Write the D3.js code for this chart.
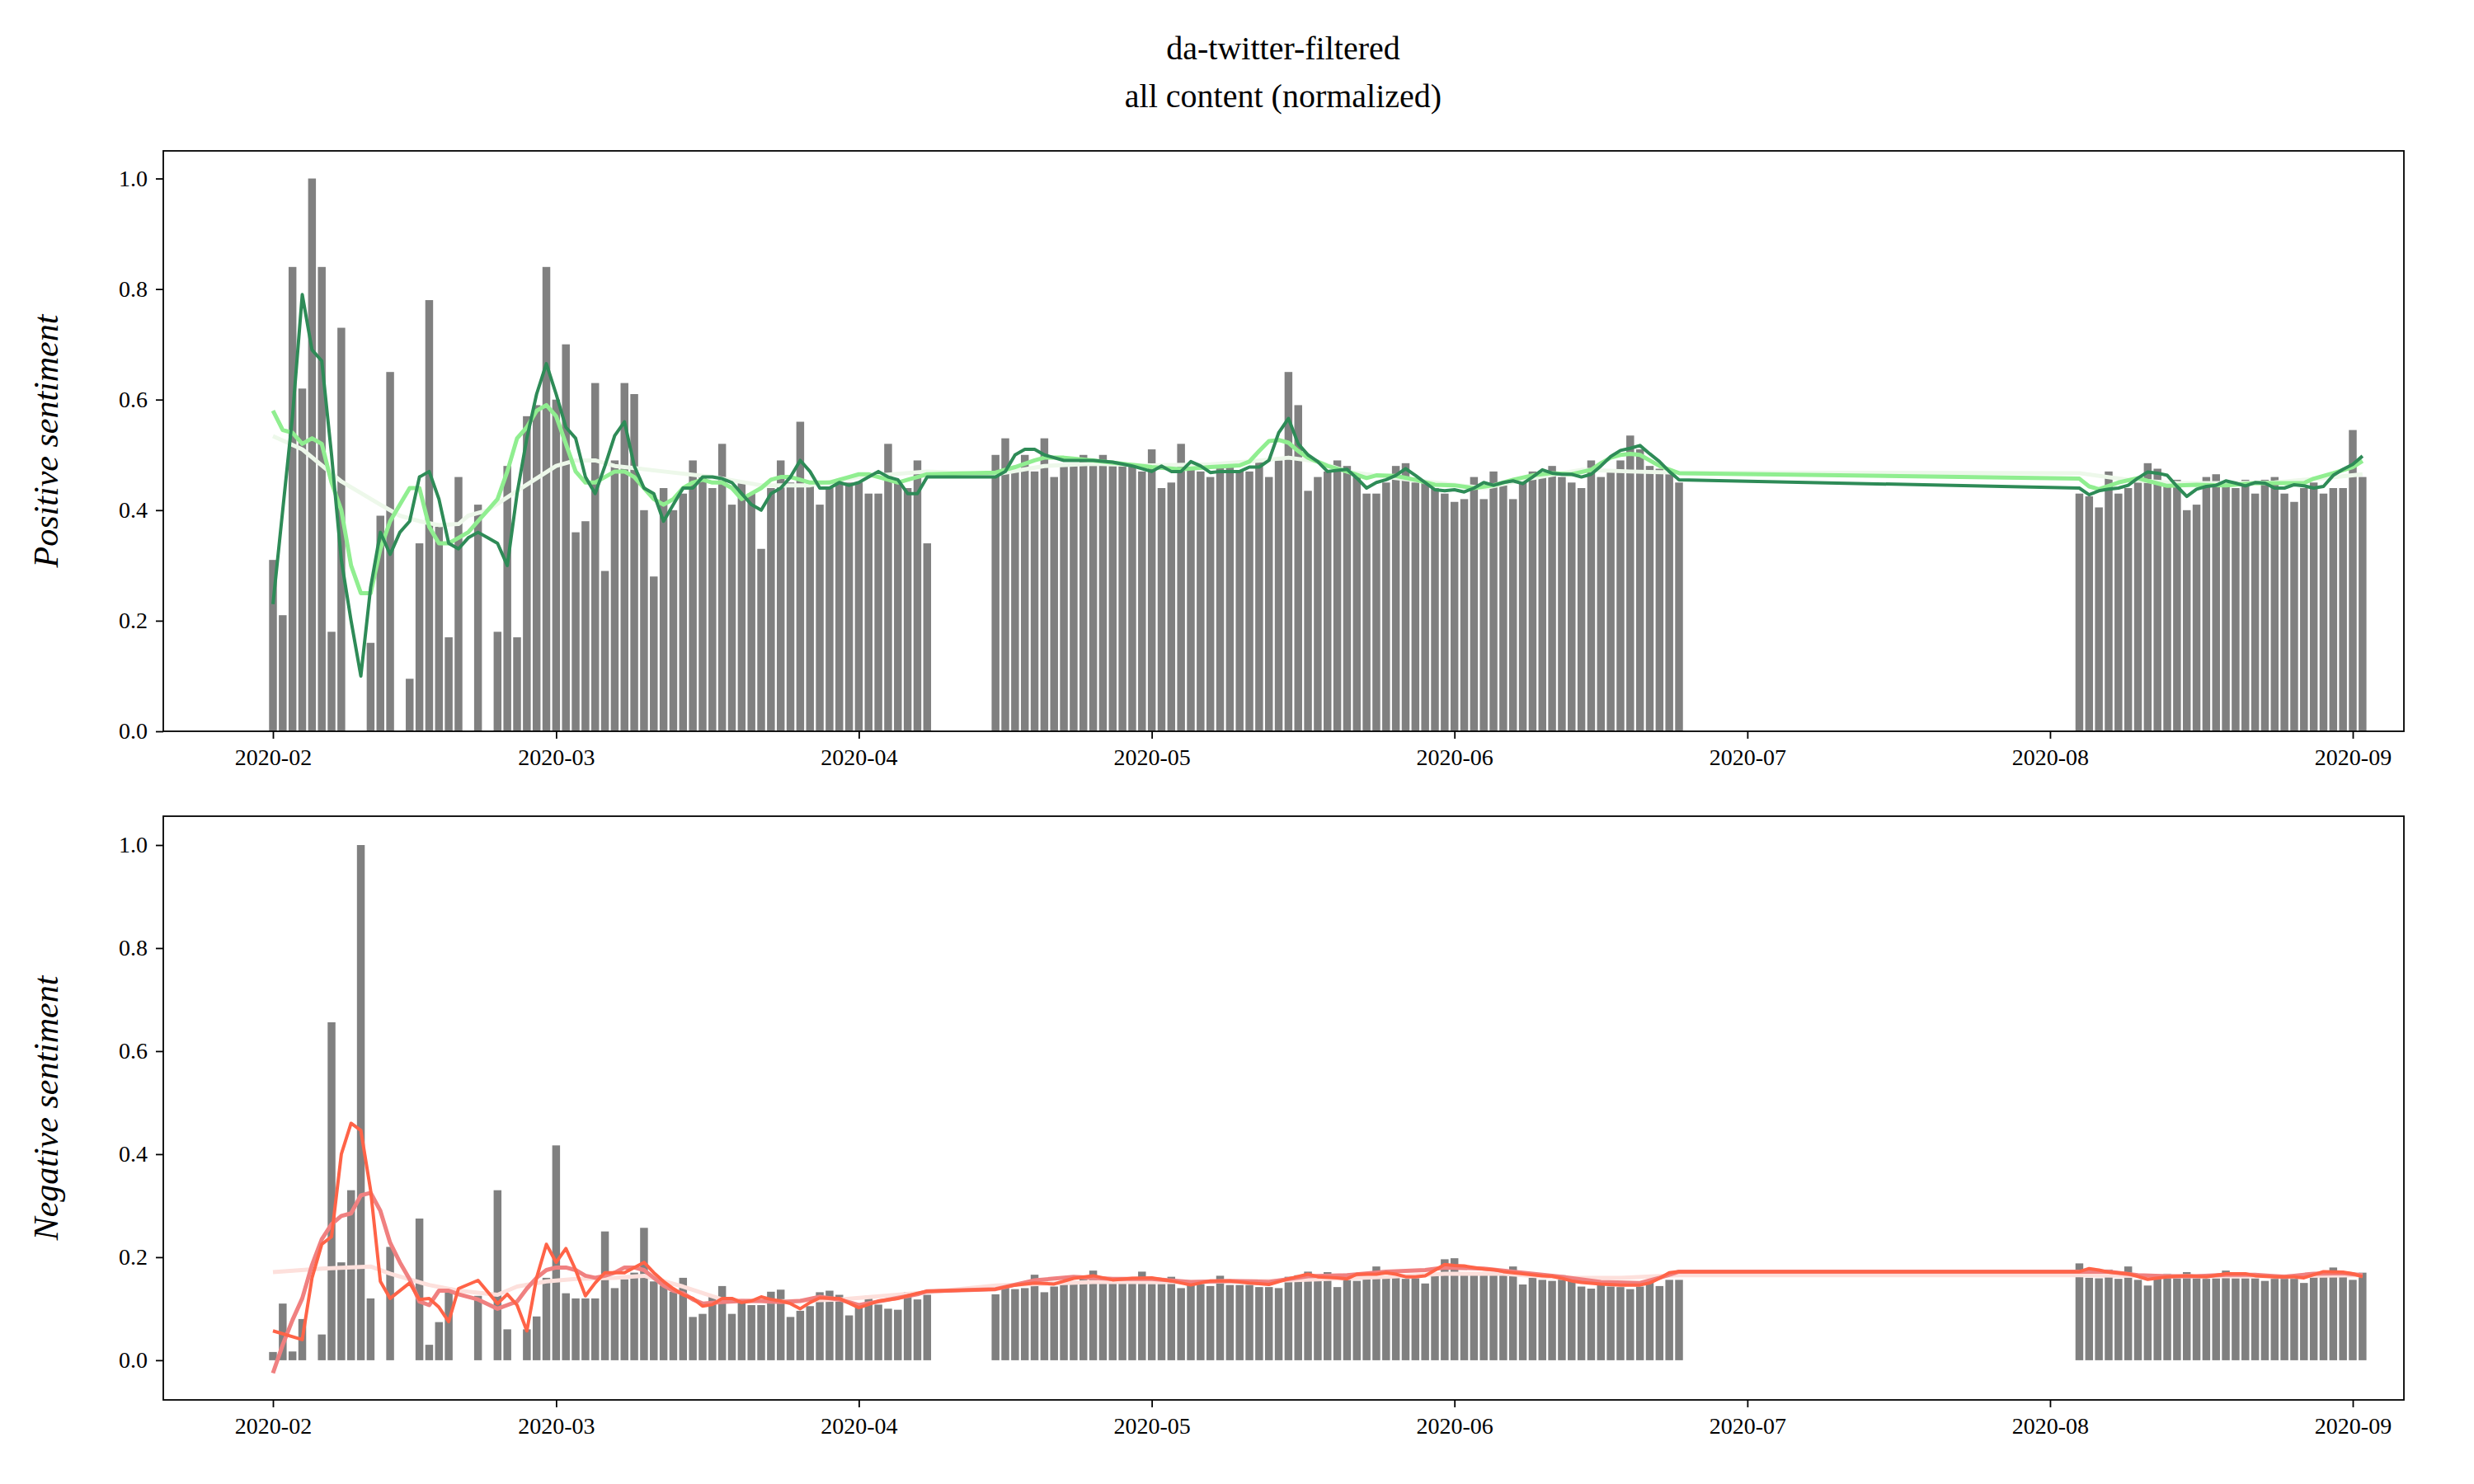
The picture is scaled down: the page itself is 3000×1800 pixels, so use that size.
<!DOCTYPE html>
<html>
<head>
<meta charset="utf-8">
<script src="https://cdn.jsdelivr.net/npm/d3@7"></script>
<style>
  body { margin: 0; background: #fff; }
  text { font-family: "Liberation Serif", "DejaVu Serif", serif; }
</style>
</head>
<body>
<svg id="chart" width="3000" height="1800"></svg>
<script>
// day offsets are counted from 2020-02-01
var segStarts = ['2020-02-01', '2020-04-15', '2020-08-04'];

// positive bars, one array per block of days (null = no bar)
var posBarsA = [.31, .21, .84, .62, 1.0, .84, .18, .73, null, null, .16, .39, .65, null, .095, .34, .78, .37, .17, .46,
    null, .41, null, .18, .48, .17, .57, .59, .84, .60, .70, .36, .38, .63, .29, .49, .63, .61, .40, .28,
    .44, .40, .43, .49, .46, .44, .52, .41, .45, .43, .33, .44, .49, .45, .56, .45, .41, .44, .45, .45,
    .45, .43, .43, .52, .45, .44, .49, .34];
var posBarsB = [.50, .53, .47, .50, .47, .53, .46, .48, .48, .50, .48, .50, .48, .48, .48, .47, .51, .44, .45, .52,
    .475, .47, .46, .48, .48, .47, .47, .49, .46, .49, .65, .59, .435, .46, .47, .49, .48, .46, .43, .43,
    .45, .48, .485, .45, .45, .44, .43, .415, .42, .46, .42, .47, .445, .42, .45, .47, .46, .48, .46, .45,
    .44, .49, .46, .47, .49, .535, .51, .48, .475, .47, .45];
var posBarsC = [.43, .425, .405, .47, .43, .44, .45, .485, .475, .45, .455, .40, .41, .46, .465, .45, .44, .455, .43, .455,
    .46, .43, .415, .44, .45, .43, .44, .44, .545, .46];

var negBarsA = [.016, .11, .017, .08, null, .05, .656, .19, .33, 1.0, .12, null, .22, null, null, .275, .03, .074, .135, null,
    null, .125, null, .33, .06, null, .06, .085, .16, .417, .13, .12, .12, .12, .25, .14, .157, .17, .257, .153,
    .145, .133, .16, .084, .09, .123, .144, .09, .114, .107, .107, .133, .137, .084, .096, .105, .132, .135, .127, .087,
    .107, .125, .108, .10, .098, .132, .118, .127];
var negBarsB = [.128, .148, .138, .14, .166, .132, .143, .148, .15, .164, .174, .152, .154, .151, .15, .172, .148, .148, .162, .14,
    .148, .148, .144, .164, .146, .146, .146, .142, .142, .14, .162, .165, .172, .154, .171, .142, .168, .154, .159, .182,
    .159, .162, .158, .159, .149, .164, .196, .198, .17, .17, .17, .17, .168, .182, .147, .16, .156, .154, .165, .163,
    .143, .139, .146, .143, .142, .138, .143, .154, .144, .156, .156];
var negBarsC = [.188, .16, .159, .176, .158, .182, .156, .145, .158, .168, .159, .171, .159, .158, .159, .174, .159, .159, .159, .154,
    .158, .158, .158, .15, .171, .162, .18, .162, .156, .17];

// rolling means, [day offset, value]
var posShort = [[0,.23],[1,.40],[2,.57],[3,.79],[4,.69],[5,.67],[6,.50],[7,.31],[8,.20],[9,.10],[10,.26],[11,.36],[12,.32],[13,.36],[14,.38],
    [15,.46],[16,.47],[17,.42],[18,.34],[19,.33],[20,.35],[21,.36],[22,.35],[23,.34],[24,.30],[25,.43],[26,.53],[27,.61],[28,.665],[29,.61],
    [30,.55],[31,.53],[32,.46],[33,.43],[34,.48],[35,.535],[36,.56],[37,.48],[38,.44],[39,.43],[40,.38],[41,.41],[42,.44],[43,.44],[44,.46],
    [45,.46],[46,.457],[47,.45],[48,.43],[49,.41],[50,.40],[51,.43],[52,.44],[53,.46],[54,.49],[55,.47],[56,.44],[57,.44],[58,.45],[59,.445],
    [60,.45],[61,.46],[62,.47],[63,.46],[64,.455],[65,.43],[66,.43],[67,.46],
    [74,.46],[75,.47],[76,.50],[77,.51],[78,.51],[79,.50],[80,.495],[81,.49],[82,.49],[83,.49],[84,.49],[86,.487],[88,.48],[90,.47],[91,.48],
    [92,.47],[93,.47],[94,.488],[95,.48],[96,.468],[97,.47],[99,.47],[100,.478],[101,.478],[102,.49],[103,.54],[104,.566],[105,.52],[106,.50],
    [107,.488],[108,.47],[109,.472],[110,.474],[111,.458],[112,.44],[113,.45],[114,.455],[115,.463],[116,.475],[117,.463],[118,.45],[119,.437],
    [120,.435],[121,.437],[122,.433],[123,.44],[124,.45],[125,.445],[126,.45],[127,.453],[128,.448],[129,.46],[130,.473],[131,.467],[132,.465],
    [133,.465],[134,.46],[135,.465],[136,.48],[137,.497],[138,.508],[139,.512],[140,.517],[141,.502],[142,.488],[143,.47],[144,.455],
    [185,.44],[186,.428],[187,.435],[188,.438],[189,.44],[190,.445],[191,.458],[192,.469],[193,.467],[194,.463],[195,.443],[196,.425],[197,.438],
    [198,.443],[199,.445],[200,.453],[201,.449],[202,.444],[203,.45],[204,.449],[205,.44],[206,.44],[207,.446],[208,.444],[209,.44],[210,.443],
    [211,.463],[212,.474],[213,.483],[214,.498]];
var posMid = [[0,.58],[1,.545],[2,.54],[3,.52],[4,.53],[5,.52],[6,.45],[7,.40],[8,.30],[9,.25],[10,.25],[11,.33],[12,.38],[13,.41],[14,.44],
    [15,.44],[16,.37],[17,.34],[18,.34],[19,.35],[20,.36],[21,.38],[22,.40],[23,.42],[24,.47],[25,.53],[26,.55],[27,.58],[28,.59],[29,.57],
    [30,.52],[31,.47],[32,.45],[33,.45],[34,.46],[35,.47],[36,.47],[37,.46],[38,.44],[39,.42],[40,.41],[41,.42],[42,.44],[43,.45],[44,.455],
    [45,.45],[46,.45],[47,.44],[48,.42],[49,.43],[50,.44],[51,.455],[52,.46],[53,.46],[54,.455],[55,.45],[56,.45],[57,.45],[58,.455],[59,.46],
    [60,.465],[61,.465],[62,.46],[63,.455],[64,.45],[65,.455],[66,.46],[67,.465],
    [74,.468],[76,.478],[78,.49],[79,.495],[81,.495],[84,.49],[87,.484],[90,.478],[93,.474],[96,.478],[99,.481],[100,.488],[101,.507],[102,.525],
    [103,.527],[104,.522],[105,.507],[106,.495],[108,.48],[110,.47],[112,.458],[113,.463],[115,.462],[117,.455],[119,.446],[121,.445],[123,.44],
    [125,.445],[127,.455],[129,.463],[131,.467],[133,.465],[135,.473],[136,.485],[137,.495],[138,.50],[139,.502],[140,.50],[142,.48],[144,.467],
    [185,.457],[186,.443],[187,.438],[189,.45],[191,.458],[192,.453],[194,.444],[197,.446],[200,.445],[203,.449],[206,.449],[208,.449],[209,.457],
    [211,.467],[213,.478],[214,.489]];
var posLong = [[0,.534],[3,.51],[7,.452],[11,.41],[13,.39],[15,.38],[17,.373],[19,.375],[20,.39],[22,.40],[25,.435],[29,.48],[31,.49],[33,.49],
    [35,.48],[37,.476],[40,.47],[45,.46],[50,.445],[55,.445],[60,.46],[67,.47],
    [74,.465],[79,.48],[84,.484],[90,.481],[96,.483],[100,.488],[104,.495],[107,.488],[110,.47],[114,.46],[119,.45],[124,.44],[129,.458],[134,.473],
    [139,.47],[144,.468],[185,.467],[190,.455],[195,.449],[200,.449],[205,.45],[210,.458],[214,.465]];

var negShort = [[0,.057],[3,.04],[4,.16],[5,.225],[6,.24],[7,.40],[8,.46],[9,.446],[10,.33],[11,.153],[12,.12],[14,.15],[15,.118],[16,.12],
    [17,.103],[18,.075],[19,.139],[21,.155],[23,.11],[24,.128],[25,.107],[26,.057],[27,.16],[28,.225],[29,.19],[30,.217],[31,.175],[32,.125],
    [33,.15],[34,.17],[36,.17],[37,.18],[38,.19],[39,.17],[40,.153],[41,.139],[42,.127],[43,.12],[44,.105],[45,.108],[46,.12],[47,.12],[48,.112],
    [49,.115],[50,.123],[51,.118],[52,.115],[53,.11],[54,.10],[55,.112],[56,.121],[58,.12],[60,.102],[62,.115],[64,.12],[65,.125],[66,.13],[67,.134],
    [74,.138],[76,.146],[78,.15],[80,.148],[82,.159],[84,.164],[86,.156],[88,.159],[90,.16],[92,.154],[94,.146],[96,.154],[98,.154],[100,.15],
    [102,.147],[104,.158],[106,.167],[107,.162],[109,.16],[110,.158],[111,.167],[113,.167],[114,.17],[115,.167],[116,.162],[117,.162],[118,.164],
    [120,.186],[121,.184],[122,.183],[123,.18],[124,.177],[125,.176],[126,.172],[127,.17],[128,.168],[130,.164],[131,.163],[132,.159],[133,.154],
    [134,.151],[136,.148],[138,.146],[140,.146],[141,.15],[142,.159],[143,.17],[144,.172],
    [185,.172],[186,.178],[187,.175],[188,.171],[190,.168],[192,.157],[194,.162],[196,.164],[198,.162],[200,.168],[202,.168],[203,.164],[205,.162],
    [207,.162],[208,.16],[210,.172],[212,.171],[213,.168],[214,.162]];
var negMid = [[0,-.025],[1,.03],[2,.078],[3,.12],[4,.185],[5,.235],[6,.264],[7,.28],[8,.285],[9,.32],[10,.325],[11,.29],[12,.228],[13,.19],
    [14,.157],[15,.114],[16,.107],[17,.135],[18,.135],[19,.128],[21,.118],[23,.10],[24,.107],[25,.114],[26,.139],[27,.16],[28,.175],[29,.18],
    [30,.18],[31,.175],[32,.164],[33,.16],[34,.164],[35,.17],[36,.18],[37,.18],[38,.175],[39,.16],[40,.145],[41,.135],[42,.13],[43,.118],[44,.11],
    [46,.113],[48,.115],[50,.115],[52,.113],[54,.115],[56,.123],[58,.118],[60,.107],[62,.114],[64,.121],[66,.128],[67,.134],
    [74,.138],[78,.155],[82,.162],[86,.158],[90,.158],[94,.152],[98,.154],[102,.152],[106,.163],[110,.165],[114,.172],[118,.175],[120,.18],
    [124,.178],[128,.17],[132,.162],[136,.152],[140,.15],[142,.16],[144,.172],
    [185,.172],[188,.172],[191,.165],[194,.163],[197,.163],[200,.166],[203,.166],[206,.162],[209,.168],[212,.169],[214,.165]];
var negLong = [[0,.171],[5,.178],[10,.182],[12,.168],[16,.146],[19,.135],[23,.127],[25,.143],[28,.153],[31,.158],[35,.16],[38,.164],[42,.143],
    [46,.118],[51,.114],[58,.118],[67,.132],[74,.145],[84,.152],[94,.152],[104,.155],[114,.162],[120,.168],[126,.168],[132,.16],[138,.16],
    [144,.165],[185,.165],[195,.163],[205,.163],[214,.165]];

var monthTicks = ['2020-02-01', '2020-03-01', '2020-04-01', '2020-05-01', '2020-06-01', '2020-07-01', '2020-08-01', '2020-09-01'];
var yTicks = [0, 0.2, 0.4, 0.6, 0.8, 1.0];

var parse = d3.utcParse('%Y-%m-%d');
var day0 = parse('2020-02-01');
function offsetDate(n) { return d3.utcDay.offset(day0, n); }

function barRows(blocks) {
    var rows = [];
    blocks.forEach(function (vals, i) {
        var start = parse(segStarts[i]);
        vals.forEach(function (v, k) {
            if (v !== null) rows.push({ date: d3.utcDay.offset(start, k), value: v });
        });
    });
    return rows;
}

var svg = d3.select('#chart');
var left = 198, right = 2915;
var x = d3.scaleUtc()
    .domain([parse('2020-02-01'), parse('2020-09-01')])
    .range([331, 2853]);
var dayW = x(offsetDate(1)) - x(offsetDate(0));

svg.append('text').attr('x', 1556).attr('y', 72).attr('text-anchor', 'middle')
    .style('font-size', '40px').text('da-twitter-filtered');
svg.append('text').attr('x', 1556).attr('y', 130).attr('text-anchor', 'middle')
    .style('font-size', '40px').text('all content (normalized)');

function panel(cfg) {
    var g = svg.append('g');
    var y = d3.scaleLinear().domain(cfg.ydom).range([cfg.bottom, cfg.top]);

    g.selectAll('rect').data(barRows(cfg.bars)).enter().append('rect')
        .attr('x', function (d) { return x(d.date) - dayW * 0.4; })
        .attr('width', dayW * 0.8)
        .attr('y', function (d) { return y(d.value); })
        .attr('height', function (d) { return y(0) - y(d.value); })
        .attr('fill', '#808080');

    var line = d3.line()
        .x(function (d) { return x(offsetDate(d[0])); })
        .y(function (d) { return y(d[1]); });
    cfg.lines.forEach(function (l) {
        g.append('path').datum(l.data).attr('d', line)
            .attr('fill', 'none').attr('stroke', l.color)
            .attr('stroke-width', l.width).attr('stroke-linejoin', 'round');
    });

    g.append('rect').attr('x', left).attr('y', cfg.top)
        .attr('width', right - left).attr('height', cfg.bottom - cfg.top)
        .attr('fill', 'none').attr('stroke', '#000').attr('stroke-width', 1.8);

    var xa = g.append('g').attr('transform', 'translate(0,' + cfg.bottom + ')')
        .call(d3.axisBottom(x).tickValues(monthTicks.map(parse))
            .tickFormat(d3.utcFormat('%Y-%m')).tickSize(9).tickPadding(12));
    var ya = g.append('g').attr('transform', 'translate(' + left + ',0)')
        .call(d3.axisLeft(y).tickValues(yTicks).tickFormat(d3.format('.1f')).tickSize(9).tickPadding(10));
    [xa, ya].forEach(function (a) {
        a.select('.domain').remove();
        a.selectAll('line').attr('stroke-width', 1.8);
        a.selectAll('text').style('font-size', '28px').style('font-family', '"Liberation Serif", serif');
    });

    g.append('text')
        .attr('transform', 'translate(70,' + ((cfg.top + cfg.bottom) / 2) + ') rotate(-90)')
        .attr('text-anchor', 'middle').style('font-size', '42px').style('font-style', 'italic')
        .text(cfg.label);
}

panel({
    top: 183, bottom: 887, ydom: [0, 1.05], label: 'Positive sentiment',
    bars: [posBarsA, posBarsB, posBarsC],
    lines: [
        { data: posLong, color: '#edf8ea', width: 5 },
        { data: posMid, color: '#90ee90', width: 5 },
        { data: posShort, color: '#2e8b57', width: 4 }
    ]
});
panel({
    top: 990, bottom: 1698, ydom: [-0.077, 1.056], label: 'Negative sentiment',
    bars: [negBarsA, negBarsB, negBarsC],
    lines: [
        { data: negLong, color: '#fde0dc', width: 5 },
        { data: negMid, color: '#f08080', width: 5 },
        { data: negShort, color: '#ff6347', width: 4 }
    ]
});
</script>
</body>
</html>
